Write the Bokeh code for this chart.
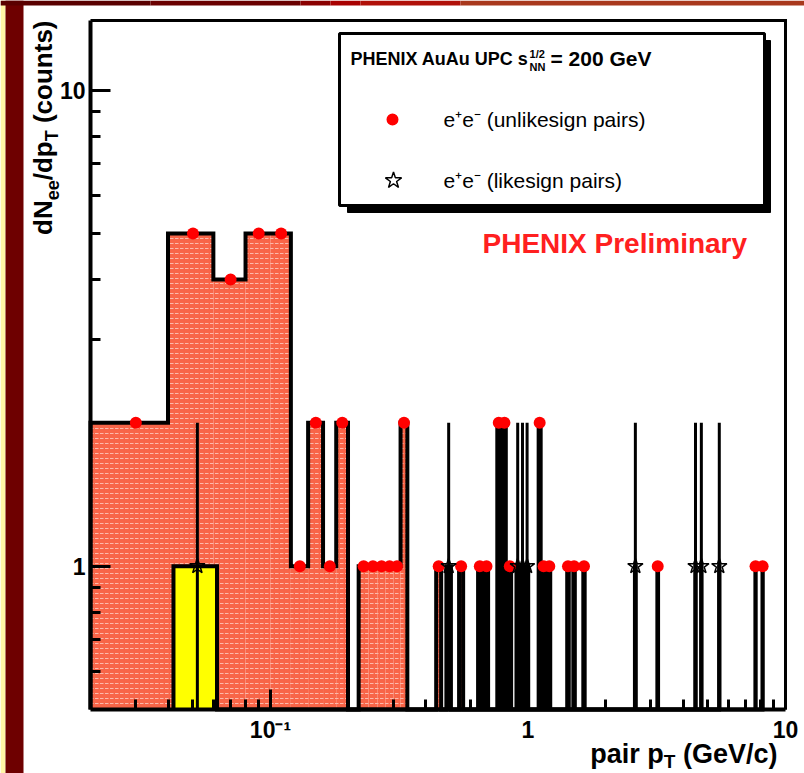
import math
from bokeh.plotting import figure
from bokeh.models import Range1d, FixedTicker, Label, LinearScale
from bokeh.embed import file_html
from bokeh.resources import INLINE

# ---------------- data ----------------
bin_width = 0.02
unlike_pt = [0.03, 0.05, 0.07, 0.09, 0.11, 0.13, 0.15, 0.17, 0.19,
             0.23, 0.25, 0.27, 0.29, 0.31, 0.33,
             0.45, 0.55, 0.65, 0.69, 0.77, 0.81, 0.85,
             1.11, 1.15, 1.21, 1.43, 1.51, 1.65, 3.19, 7.65, 8.15]
unlike_n = [2, 5, 4, 5, 5, 1, 2, 1, 2,
            1, 1, 1, 1, 1, 2,
            1, 1, 1, 1, 2, 2, 1,
            2, 1, 1, 1, 1, 1, 1, 1, 1]
like_pt = [0.052, 0.492, 0.912, 0.952, 0.992, 2.612, 4.472, 4.712, 5.532]
like_n = [1, 1, 1, 1, 1, 1, 1, 1, 1]

x_major = [0.1, 1, 10]
x_major_labels = ["10⁻¹", "1", "10"]
x_minor = [0.03, 0.04, 0.05, 0.06, 0.07, 0.08, 0.09,
           0.2, 0.3, 0.4, 0.5, 0.6, 0.7, 0.8, 0.9,
           2, 3, 4, 5, 6, 7, 8, 9]
y_major = [1, 10]
y_major_labels = ["1", "10"]
y_minor = [0.6, 0.7, 0.8, 0.9, 2, 3, 4, 5, 6, 7, 8, 9]

x_lo, x_hi = 0.02, 10
y_lo, y_hi = 0.5, 14

FONT = "Liberation Sans"

# ---------------- layout (page pixels; canvas starts at page 0,0) ----------------
FIG_W, FIG_H = 804, 773
BOX_L, BOX_R, BOX_T, BOX_B = 90, 785, 20, 709   # the plot box

lg = math.log10
dx_dec = (BOX_R - BOX_L) / (lg(x_hi) - lg(x_lo))
dy_dec = (BOX_B - BOX_T) / (lg(y_hi) - lg(y_lo))
x_start = 10 ** (lg(x_lo) - BOX_L / dx_dec)
x_end = 10 ** (lg(x_hi) + (FIG_W - BOX_R) / dx_dec)
y_start = 10 ** (lg(y_lo) - (FIG_H - BOX_B) / dy_dec)
y_end = 10 ** (lg(y_hi) + BOX_T / dy_dec)

# approximate Arial/Liberation widths (1/1000 em)
W_REG = {' ': 278, '(': 333, ')': 333, '/': 278, '=': 584, 'A': 667, 'C': 722, 'E': 667,
         'G': 778, 'H': 722, 'I': 278, 'N': 722, 'P': 667, 'T': 611, 'U': 722, 'V': 667,
         'X': 667, 'a': 556, 'c': 500, 'd': 556, 'e': 556, 'g': 556, 'i': 222, 'k': 500,
         'l': 222, 'm': 833, 'n': 556, 'o': 556, 'p': 556, 'r': 333, 's': 500, 't': 278,
         'u': 556, 'y': 500}
W_BOLD = {' ': 278, '(': 333, ')': 333, '/': 278, '=': 584, 'A': 722, 'C': 722, 'E': 667,
          'G': 778, 'H': 722, 'I': 278, 'N': 722, 'P': 667, 'T': 611, 'U': 722, 'V': 667,
          'X': 667, 'a': 556, 'c': 556, 'd': 611, 'e': 556, 'g': 611, 'i': 278, 'k': 556,
          'l': 278, 'm': 889, 'n': 611, 'o': 611, 'p': 611, 'r': 389, 's': 556, 't': 333,
          'u': 611, 'y': 556}
MID = 0.35   # distance from baseline to the middle of the text, in em


def text_width(s, size, bold):
    table = W_BOLD if bold else W_REG
    return sum(table.get(ch, 556) for ch in s) * size / 1000.0


def step_outline(centers, counts, width, base):
    pairs = sorted(zip(centers, counts))
    xs, ys = [], []
    prev_r = None
    for c, n in pairs:
        l, r = c - width / 2, c + width / 2
        if prev_r is None or abs(l - prev_r) > 1e-6:
            if prev_r is not None:
                xs.append(prev_r); ys.append(base)
            xs.append(l); ys.append(base)
        xs += [l, r]; ys += [n, n]
        prev_r = r
    xs.append(prev_r); ys.append(base)
    return xs, ys


p = figure(width=FIG_W, height=FIG_H, x_axis_type="log", y_axis_type="log",
           x_range=Range1d(x_start, x_end), y_range=Range1d(y_start, y_end),
           output_backend="svg", toolbar_location=None, min_border=0,
           min_border_left=0, min_border_right=0, min_border_top=0, min_border_bottom=0)
p.extra_x_ranges = {"px": Range1d(0, FIG_W)}
p.extra_y_ranges = {"py": Range1d(FIG_H, 0)}   # page coords, y down
p.extra_x_scales = {"px": LinearScale()}
p.extra_y_scales = {"py": LinearScale()}
p.grid.visible = False
p.outline_line_color = None
p.background_fill_color = "white"
p.border_fill_color = "white"

for ax in (p.xaxis[0], p.yaxis[0]):
    ax.axis_line_width = 4
    ax.axis_line_color = "black"
    ax.major_tick_in = 20
    ax.major_tick_out = 0
    ax.minor_tick_in = 10
    ax.minor_tick_out = 0
    ax.major_tick_line_width = 3
    ax.minor_tick_line_width = 3
    ax.major_label_text_font = FONT
    ax.major_label_text_font_style = "bold"
    ax.major_label_text_font_size = "23px"
    ax.major_label_text_color = "black"
p.xaxis.fixed_location = y_lo
p.yaxis.fixed_location = x_lo
p.xaxis.bounds = (x_lo, x_hi)
p.yaxis.bounds = (y_lo, y_hi)
p.xaxis.ticker = FixedTicker(ticks=x_major, minor_ticks=x_minor)
p.yaxis.ticker = FixedTicker(ticks=y_major, minor_ticks=y_minor)
p.xaxis.major_label_overrides = dict(zip(x_major, x_major_labels))
p.yaxis.major_label_overrides = dict(zip(y_major, y_major_labels))
p.xaxis.major_label_standoff = 7
p.yaxis.major_label_standoff = 5

# slide decoration: left stripes and top bar
p.quad(left=[0, 5], right=[5, 23], top=[0, 0], bottom=[FIG_H, FIG_H],
       x_range_name="px", y_range_name="py",
       fill_color=["#FFF6A6", "#6E0000"], line_color=None)
p.quad(left=[0, 150, 300, 330, 360, 460], right=[150, 300, 330, 360, 460, FIG_W],
       top=[0] * 6, bottom=[5] * 6, x_range_name="px", y_range_name="py",
       fill_color=["#5A0000", "#6A0000", "#8A0000", "#A80000", "#B01008", "#A8381C"],
       line_color=None)

# top and right edges of the plot box
p.line([x_lo, x_hi, x_hi], [y_hi, y_hi, y_lo], line_color="black", line_width=3,
       line_join="miter")

# ---------------- histograms ----------------
hw = bin_width / 2
p.quad(left=[c - hw for c in unlike_pt], right=[c + hw for c in unlike_pt],
       top=unlike_n, bottom=[y_lo] * len(unlike_n),
       fill_color="#F86548", line_color=None,
       hatch_pattern="horizontal_dash", hatch_color="white", hatch_alpha=0.55,
       hatch_scale=5, hatch_weight=1)
p.quad(left=[c - hw for c in like_pt], right=[c + hw for c in like_pt],
       top=like_n, bottom=[y_lo] * len(like_n),
       fill_color="#FFFF00", line_color=None)

ux, uy = step_outline(unlike_pt, unlike_n, bin_width, y_lo)
p.line(ux, uy, line_color="black", line_width=4, line_join="miter")
lx, ly = step_outline(like_pt, like_n, bin_width, y_lo)
p.line(lx, ly, line_color="black", line_width=4, line_join="miter")

# error bars of likesign pairs
p.segment(x0=like_pt, y0=[y_lo] * len(like_pt), x1=like_pt,
          y1=[n + math.sqrt(n) for n in like_n], line_color="black", line_width=3)

p.scatter(unlike_pt, unlike_n, marker="circle", size=12, fill_color="#FF0000", line_color=None)
p.scatter(like_pt, like_n, marker="star", size=16, fill_color=None, line_color="black",
          line_width=1.5)


# ---------------- text helpers (page pixel coordinates, y = baseline) ----------------
def label(x, y, text, size, bold=False, color="black", align="left", angle=0.0):
    # anchor on the middle of the text; shift from the wanted baseline
    if angle == 0.0:
        ym, xm = y - MID * size, x
    else:
        ym, xm = y, x - MID * size
    p.add_layout(Label(x=xm, y=ym, x_range_name="px", y_range_name="py", text=text,
                       text_font=FONT, text_font_size=f"{size}px",
                       text_font_style="bold" if bold else "normal",
                       text_color=color, text_align=align, text_baseline="middle",
                       angle=angle))


def split_lead(t, size, bold):
    s = t.lstrip(" ")
    return s, text_width(t[:len(t) - len(s)], size, bold)


def rich_h(x, y, pieces, bold, align="left"):
    widths = [text_width(t, s, bold) for t, s, d in pieces]
    if align == "right":
        x -= sum(widths)
    for (t, s, d), w in zip(pieces, widths):
        txt, lead = split_lead(t, s, bold)
        label(x + lead, y + d, txt, s, bold)
        x += w


def rich_v(x, y_top, pieces, bold):
    widths = [text_width(t, s, bold) for t, s, d in pieces]
    y = y_top + sum(widths)
    for (t, s, d), w in zip(pieces, widths):
        txt, lead = split_lead(t, s, bold)
        label(x + d, y - lead, txt, s, bold, angle=math.pi / 2)
        y -= w


# axis titles
rich_h(777, 763, [("pair p", 27, 0), ("T", 19, 5), (" (GeV/c)", 27, 0)], True, align="right")
rich_v(52, BOX_T, [("dN", 26, 0), ("ee", 18, 6), ("/dp", 26, 0), ("T", 18, 6),
                   (" (counts)", 26, 0)], True)

# ---------------- legend ----------------
p.quad(left=[347], right=[770], top=[40], bottom=[212], x_range_name="px", y_range_name="py",
       fill_color="black", line_color="black")
p.quad(left=[339], right=[764], top=[33], bottom=[205], x_range_name="px", y_range_name="py",
       fill_color="white", line_color="black", line_width=3)

t0 = "PHENIX AuAu UPC s"
label(350, 65, t0, 18, bold=True)
xs_ = 350 + text_width(t0, 18, True)
label(xs_ + 1, 57, "1/2", 11, bold=True)
label(xs_ + 1, 70, "NN", 11, bold=True)
label(550, 65, "= 200 GeV", 21, bold=True)

p.scatter([392], [119], x_range_name="px", y_range_name="py", marker="circle", size=12,
          fill_color="#FF0000", line_color=None)
p.scatter([393], [180], x_range_name="px", y_range_name="py", marker="star", size=17,
          fill_color=None, line_color="black", line_width=1.5)
label(443, 126, "e⁺e⁻ (unlikesign pairs)", 21)
label(443, 187, "e⁺e⁻ (likesign pairs)", 21)

label(482, 253, "PHENIX Preliminary", 28, bold=True, color="#FF2020")

open("out.html", "w").write(file_html(p, INLINE))
